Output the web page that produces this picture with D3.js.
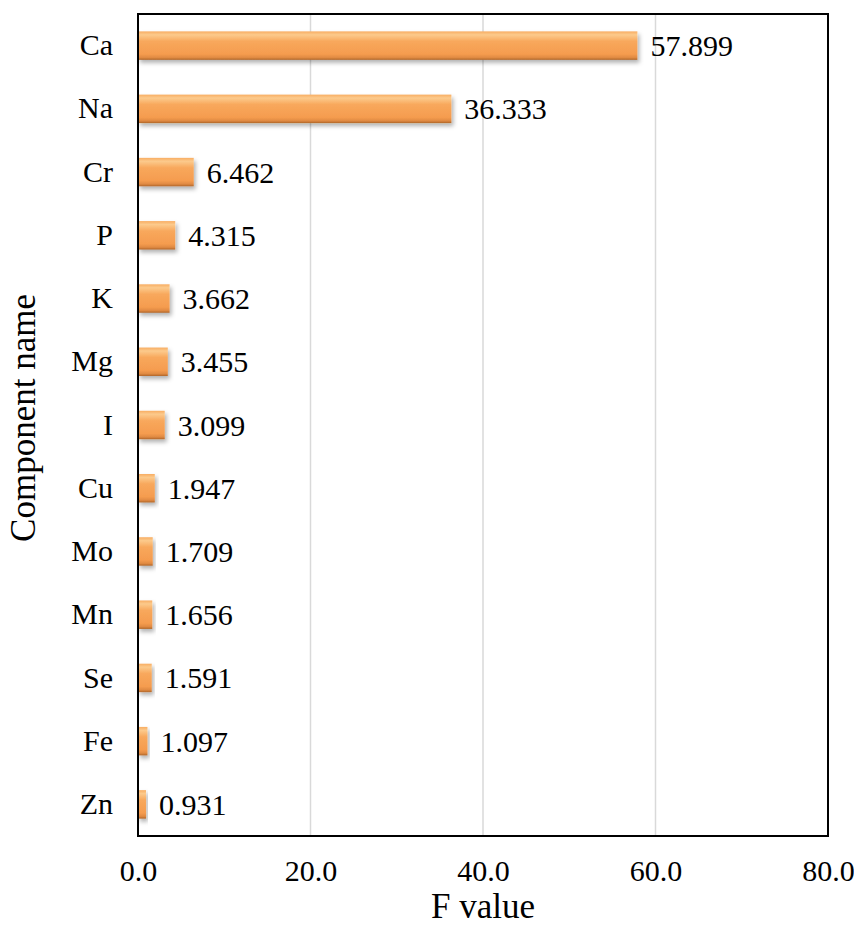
<!DOCTYPE html>
<html>
<head>
<meta charset="utf-8">
<script src="https://cdn.jsdelivr.net/npm/d3@7"></script>
</head>
<body style="margin:0; background:#fff">
<div id="chart"></div>
<script>
// data
const components = ["Ca", "Na", "Cr", "P", "K", "Mg", "I", "Cu", "Mo", "Mn", "Se", "Fe", "Zn"];
const fValues = [57.899, 36.333, 6.462, 4.315, 3.662, 3.455, 3.099, 1.947, 1.709, 1.656, 1.591, 1.097, 0.931];
const xTicks = [0, 20, 40, 60, 80];

const [w, h] = [854, 928];
const margin = { left: 138, right: 26, top: 14, bottom: 92 };
const serif = '"Liberation Serif"';

const x = d3.scaleLinear()
  .domain([0, 80])
  .range([margin.left, w - margin.right]);

const y = d3.scaleBand()
  .domain(components)
  .range([margin.top, h - margin.bottom])
  .paddingInner(0.55)
  .paddingOuter(0.275);

const svg = d3.select("#chart")
  .append("svg")
  .attr("width", w)
  .attr("height", h);

const defs = svg.append("defs");
const grad = defs.append("linearGradient")
  .attr("id", "barGrad")
  .attr("x1", 0).attr("y1", 0).attr("x2", 0).attr("y2", 1);
[["0%", "#f8ad62"], ["12%", "#fcca8c"], ["35%", "#f8a85c"], ["80%", "#f59c4f"], ["92%", "#e08a42"], ["100%", "#b06528"]]
  .forEach(([o, c]) => grad.append("stop").attr("offset", o).attr("stop-color", c));

const shadow = defs.append("filter")
  .attr("id", "shadow")
  .attr("x", "-10%").attr("y", "-20%").attr("width", "130%").attr("height", "160%");
shadow.append("feDropShadow")
  .attr("dx", 2).attr("dy", 3)
  .attr("stdDeviation", 2)
  .attr("flood-color", "#000")
  .attr("flood-opacity", 0.3);

// gridlines
svg.append("g")
  .selectAll("line")
  .data(xTicks.filter(d => d > 0 && d < 80))
  .enter()
  .append("line")
  .attr("x1", d => x(d)).attr("x2", d => x(d))
  .attr("y1", margin.top).attr("y2", h - margin.bottom)
  .attr("stroke", "#d9d9d9")
  .attr("stroke-width", 1.5);

// bars
svg.append("g")
  .selectAll("rect")
  .data(components)
  .enter()
  .append("rect")
  .attr("x", x(0))
  .attr("y", d => y(d))
  .attr("width", (d, i) => x(fValues[i]) - x(0))
  .attr("height", y.bandwidth())
  .attr("fill", "url(#barGrad)")
  .attr("filter", "url(#shadow)");

// value labels
svg.append("g")
  .selectAll("text")
  .data(components)
  .enter()
  .append("text")
  .attr("x", (d, i) => x(fValues[i]) + 13)
  .attr("y", d => y(d) + y.bandwidth() / 2)
  .attr("dy", "0.35em")
  .style("font-family", serif)
  .style("font-size", "30px")
  .text((d, i) => fValues[i].toFixed(3));

// frame
svg.append("rect")
  .attr("x", margin.left)
  .attr("y", margin.top)
  .attr("width", w - margin.left - margin.right)
  .attr("height", h - margin.top - margin.bottom)
  .attr("fill", "none")
  .attr("stroke", "#000")
  .attr("stroke-width", 2);

// x axis
const xAxis = d3.axisBottom(x)
  .tickValues(xTicks)
  .tickSize(0)
  .tickPadding(24)
  .tickFormat(d3.format(".1f"));
svg.append("g")
  .attr("transform", `translate(0, ${h - margin.bottom})`)
  .call(xAxis)
  .call(g => g.select(".domain").remove())
  .selectAll("text")
  .style("font-family", serif)
  .style("font-size", "30px")
  .attr("fill", "#000");

// y axis
const yAxis = d3.axisLeft(y)
  .tickSize(0)
  .tickPadding(25);
svg.append("g")
  .attr("transform", `translate(${margin.left}, 0)`)
  .call(yAxis)
  .call(g => g.select(".domain").remove())
  .selectAll("text")
  .style("font-family", serif)
  .style("font-size", "30px")
  .attr("fill", "#000");

// axis titles
svg.append("text")
  .attr("x", 483)
  .attr("y", 918)
  .attr("text-anchor", "middle")
  .style("font-family", serif)
  .style("font-size", "35px")
  .text("F value");

svg.append("text")
  .attr("transform", `translate(35, 418) rotate(-90)`)
  .attr("text-anchor", "middle")
  .style("font-family", serif)
  .style("font-size", "35px")
  .text("Component name");
</script>
</body>
</html>
